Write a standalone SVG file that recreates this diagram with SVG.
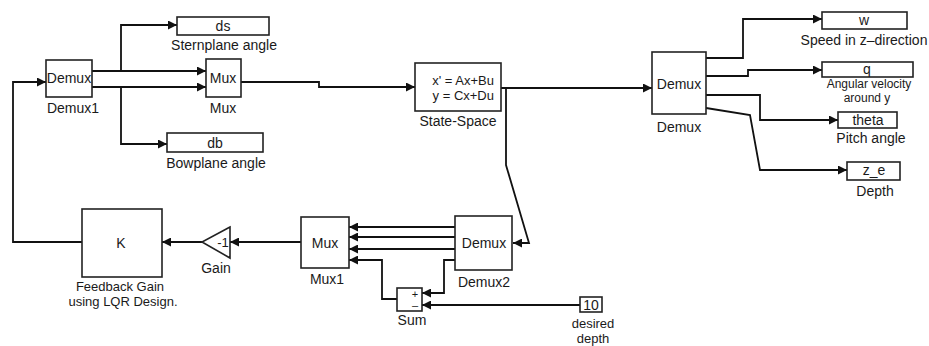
<svg xmlns="http://www.w3.org/2000/svg" width="929" height="346" viewBox="0 0 929 346">
<defs>
<marker id="arr" viewBox="0 0 10 10" refX="10" refY="5" markerWidth="9" markerHeight="9" markerUnits="userSpaceOnUse" orient="auto">
<path d="M0,0 L10,5 L0,10 z" fill="#111"/>
</marker>
<style>
.blk{fill:#fff;stroke:#222;stroke-width:1.6}
.c{fill:none;stroke:#111;stroke-width:1.8;marker-end:url(#arr)}
text{font-family:"Liberation Sans",Arial,Helvetica,sans-serif;font-size:14px;fill:#1a1a1a;text-anchor:middle}
.s{font-size:13px}
.m{font-size:12px}
.t{font-size:11px}
</style>
</defs>
<rect width="929" height="346" fill="#fff"/>

<g id="connectors">
<path class="c" d="M92,71 H206"/>
<path class="c" d="M92,87 H206"/>
<path class="c" d="M121,71 V25 H177"/>
<path class="c" d="M121,87 V144 H167"/>
<path class="c" d="M241,82 H319 V87 H415"/>
<path class="c" d="M501,88 H652"/>
<path class="c" d="M506,88 V165 L529,243 H513"/>
<path class="c" d="M706,58 H743 V19 H822"/>
<path class="c" d="M706,76 H748 V70 H822"/>
<path class="c" d="M706,95 H760 V120 H838"/>
<path class="c" d="M706,108 L750,115 L760,170 H847"/>
<path class="c" d="M455,227 H349"/>
<path class="c" d="M455,237 H349"/>
<path class="c" d="M455,249 H349"/>
<path class="c" d="M455,260 H444 V293 H422"/>
<path class="c" d="M397,299 H382 V260 H349"/>
<path class="c" d="M580,305 H422"/>
<path class="c" d="M301,242 H230"/>
<path class="c" d="M202,242 H162"/>
<path class="c" d="M82,242 H13 V82 H46"/>
</g>

<g id="demux1">
<rect class="blk" x="46" y="60" width="46" height="37"/>
<text x="69" y="83">Demux</text>
<text x="73" y="113">Demux1</text>
</g>
<g id="ds">
<rect class="blk" x="177" y="17" width="92" height="18"/>
<text x="223" y="31">ds</text>
<text x="224" y="50">Sternplane angle</text>
</g>
<g id="mux">
<rect class="blk" x="206" y="59" width="35" height="38"/>
<text x="223" y="83">Mux</text>
<text x="223" y="113">Mux</text>
</g>
<g id="db">
<rect class="blk" x="167" y="133" width="96" height="19"/>
<text x="215" y="148">db</text>
<text x="216" y="168">Bowplane angle</text>
</g>
<g id="statespace">
<rect class="blk" x="415" y="63" width="86" height="48"/>
<text x="494" y="85" class="s" style="text-anchor:end">x' = Ax+Bu</text>
<text x="494" y="100" class="s" style="text-anchor:end">y = Cx+Du</text>
<text x="458" y="126">State-Space</text>
</g>
<g id="demux">
<rect class="blk" x="652" y="52" width="54" height="62"/>
<text x="679" y="89">Demux</text>
<text x="679" y="132">Demux</text>
</g>
<g id="w">
<rect class="blk" x="822" y="12" width="85" height="17"/>
<text x="864" y="25">w</text>
<text x="864" y="45">Speed in z–direction</text>
</g>
<g id="q">
<rect class="blk" x="822" y="62" width="91" height="15"/>
<text x="867" y="74">q</text>
<text x="869" y="88" class="m">Angular velocity</text>
<text x="867" y="102" class="m">around y</text>
</g>
<g id="theta">
<rect class="blk" x="838" y="112" width="59" height="16"/>
<text x="868" y="125">theta</text>
<text x="871" y="143">Pitch angle</text>
</g>
<g id="ze">
<rect class="blk" x="847" y="162" width="53" height="18"/>
<text x="874" y="175">z_e</text>
<text x="875" y="196">Depth</text>
</g>
<g id="demux2">
<rect class="blk" x="455" y="216" width="57" height="54"/>
<text x="484" y="248">Demux</text>
<text x="484" y="287">Demux2</text>
</g>
<g id="mux1">
<rect class="blk" x="301" y="217" width="48" height="51"/>
<text x="325" y="248">Mux</text>
<text x="327" y="284">Mux1</text>
</g>
<g id="gain">
<path class="blk" d="M230,227 L202,242 L230,258 Z"/>
<text x="223" y="247" class="s">-1</text>
<text x="216" y="273">Gain</text>
</g>
<g id="k">
<rect class="blk" x="82" y="209" width="80" height="68"/>
<text x="121" y="248">K</text>
<text x="120" y="291" class="s">Feedback Gain</text>
<text x="123" y="306" class="s">using LQR Design.</text>
</g>
<g id="sum">
<rect class="blk" x="397" y="288" width="25" height="23"/>
<text x="415" y="298" class="t">+</text>
<text x="415" y="309" class="t">–</text>
<text x="412" y="325">Sum</text>
</g>
<g id="const">
<rect class="blk" x="580" y="297" width="22" height="15"/>
<text x="591" y="310">10</text>
<text x="593" y="328" class="s">desired</text>
<text x="593" y="343" class="s">depth</text>
</g>
</svg>
